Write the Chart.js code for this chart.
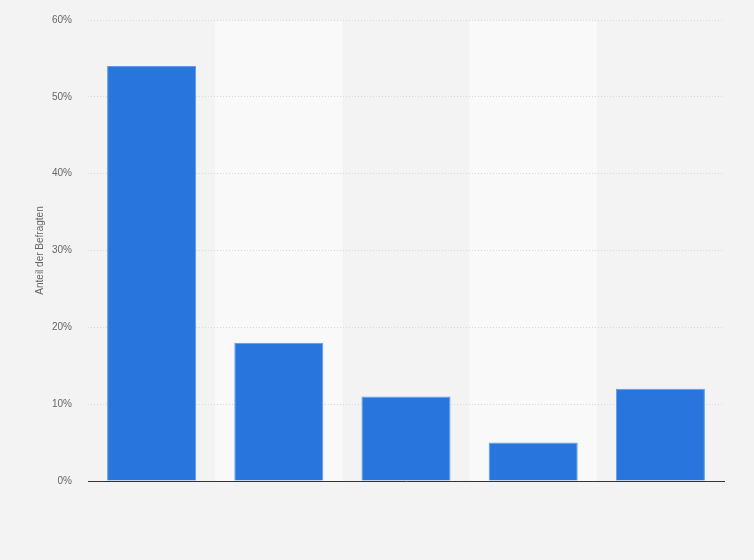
<!DOCTYPE html>
<html>
<head>
<meta charset="utf-8">
<script src="https://cdn.jsdelivr.net/npm/chart.js@4/dist/chart.umd.min.js"></script>
<style>
html,body{margin:0;padding:0;background:#f3f3f3;}
#wrap{width:754px;height:560px;position:relative;}
</style>
</head>
<body>
<div id="wrap"><canvas id="c"></canvas></div>
<script>
const categories = ['Antwort 1','Antwort 2','Antwort 3','Antwort 4','Antwort 5'];
const values = [54, 18, 11, 5, 12];
const yTicks = [0, 10, 20, 30, 40, 50, 60];
const yTitle = 'Anteil der Befragten';

const bandPlugin = {
  id: 'bands',
  beforeDraw(chart) {
    const {ctx, chartArea, scales} = chart;
    const x = scales.x;
    ctx.save();
    ctx.fillStyle = '#f9f9f9';
    const n = categories.length;
    const w = (chartArea.right - chartArea.left) / n;
    for (let i = 0; i < n; i++) {
      if (i % 2 === 1) {
        const cx = x.getPixelForValue(i);
        ctx.fillRect(cx - w/2, chartArea.top, w, chartArea.bottom - chartArea.top);
      }
    }
    ctx.restore();
  }
};

new Chart(document.getElementById('c'), {
  type: 'bar',
  data: {
    labels: categories,
    datasets: [{
      data: values,
      backgroundColor: '#2876dd',
      borderColor: '#5f9be8',
      borderWidth: {top:1,left:1,right:1,bottom:0},
      barPercentage: 0.7,
      categoryPercentage: 1.0
    }]
  },
  options: {
    responsive: true,
    maintainAspectRatio: false,
    animation: false,
    layout: {padding: {left: 0, right: 30, top: 20, bottom: 0}},
    plugins: {legend: {display: false}, tooltip: {enabled: false}},
    scales: {
      x: {
        grid: {display: false, drawTicks: false},
        border: {display: true, color: '#333', width: 1},
        ticks: {display: false},
        afterFit(s) { s.height = 79; s.paddingTop = 0; s.paddingBottom = 0; }
      },
      y: {
        min: 0, max: 60,
        afterBuildTicks(s) { s.ticks = yTicks.map(v => ({value: v})); },
        ticks: {
          callback: v => v + '%',
          color: '#666',
          font: {family: 'Liberation Sans, Arial, sans-serif', size: 10},
          padding: 16
        },
        grid: {color: '#d8d8d8', drawTicks: false, lineWidth: 1},
        border: {display: false, dash: [1,2]},
        title: {
          display: true,
          text: yTitle,
          color: '#666',
          font: {family: 'Liberation Sans, Arial, sans-serif', size: 10},
          padding: {top: 34, bottom: 0}
        },
        afterFit(s) { s.width = 88; s.paddingTop = 0; s.paddingBottom = 0; }
      }
    }
  },
  plugins: [bandPlugin]
});
</script>
</body>
</html>
